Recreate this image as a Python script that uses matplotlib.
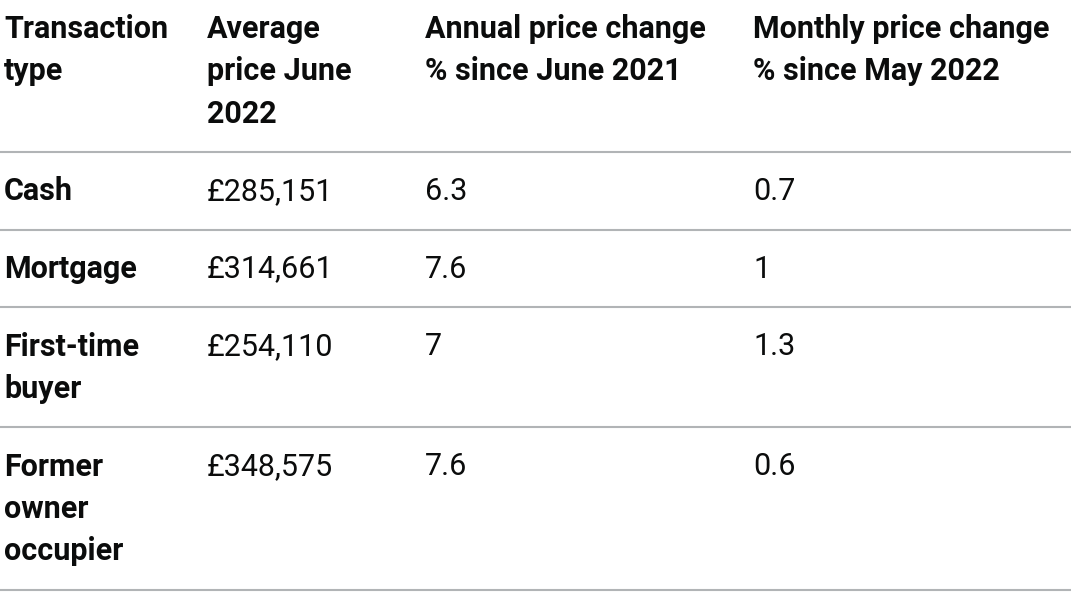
import matplotlib
matplotlib.use("Agg")
import matplotlib.pyplot as plt

# Table content
headers = [
    ["Transaction", "type"],
    ["Average", "price June", "2022"],
    ["Annual price change", "% since June 2021"],
    ["Monthly price change", "% since May 2022"],
]
row_labels = [["Cash"], ["Mortgage"], ["First-time", "buyer"], ["Former", "owner", "occupier"]]
avg_price = ["£285,151", "£314,661", "£254,110", "£348,575"]
annual_change = ["6.3", "7.6", "7", "7.6"]
monthly_change = ["0.7", "1", "1.3", "0.6"]

TEXT = "#0b0c0c"
RULE = "#b1b4b6"
FONT = "Roboto"
FS = 22
COL_X = [4, 207, 425, 753]
LINE_H = 42.5
PAD_TOP = 39.5
PAD_ROW = 35

fig = plt.figure(figsize=(10.8, 6.15), dpi=100)
ax = fig.add_axes([0, 0, 1, 1])
ax.set_xlim(0, 1080)
ax.set_ylim(615, 0)
ax.axis("off")


def draw_row(top, cells, bold_first):
    n = max(len(c) for c in cells)
    for ci, lines in enumerate(cells):
        weight = "bold" if (bold_first or ci == 0) else "normal"
        for li, s in enumerate(lines):
            ax.text(COL_X[ci], top + PAD_TOP + li * LINE_H, s,
                    ha="left", va="center", fontsize=FS, fontfamily=FONT,
                    fontweight=weight, color=TEXT)
    bottom = top + PAD_ROW + n * LINE_H
    ax.plot([0, 1071], [bottom, bottom], color=RULE, lw=1.5, solid_capstyle="butt")
    return bottom


top = draw_row(-10.5, headers, True)
for i in range(len(row_labels)):
    cells = [row_labels[i], [avg_price[i]], [annual_change[i]], [monthly_change[i]]]
    top = draw_row(top, cells, False)

fig.savefig("out.png", dpi=100)
